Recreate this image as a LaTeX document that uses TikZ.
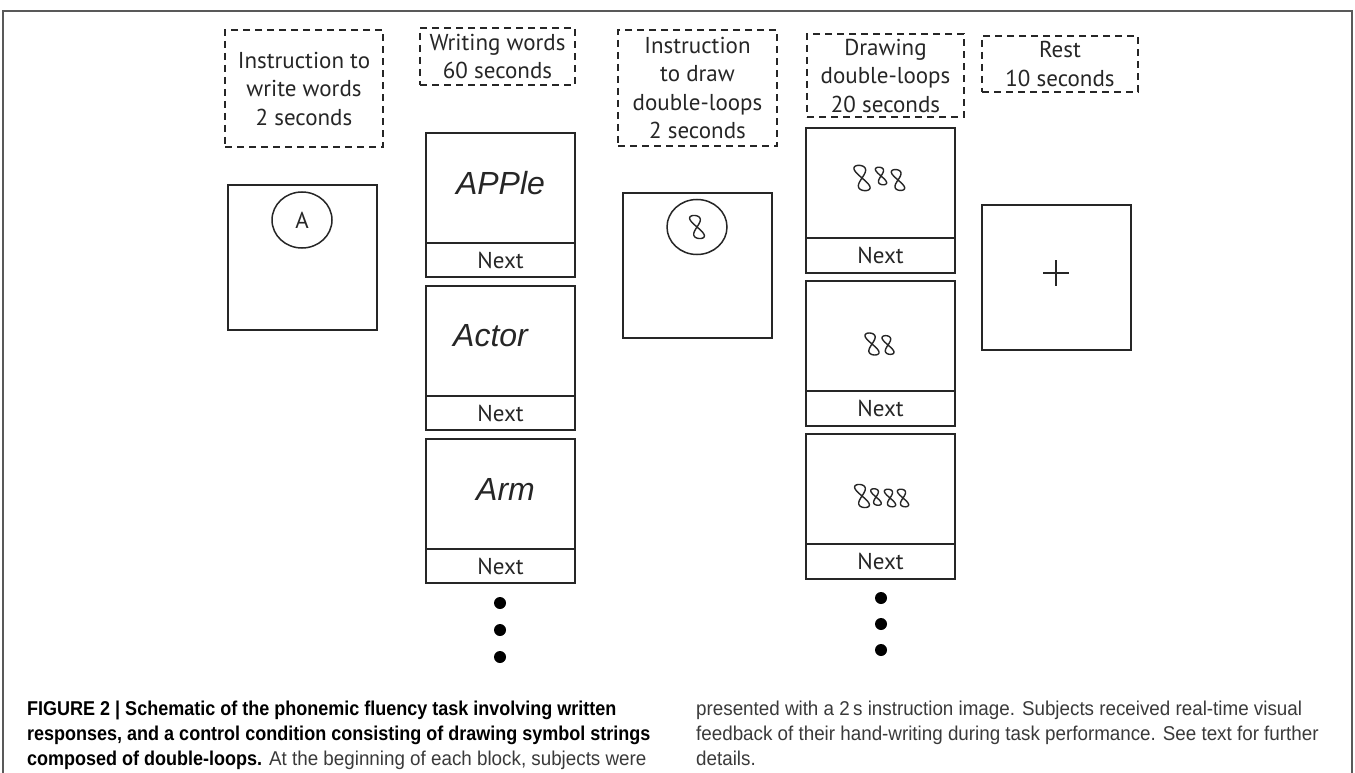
\documentclass[tikz,border=0pt]{standalone}
\usepackage{fontspec}
\setmainfont{PT Sans}
\newfontfamily\capfont[FakeStretch=0.94]{Liberation Sans}
\newfontfamily\capboldfont[FakeStretch=0.90]{Liberation Sans}
\newfontfamily\handfont{Liberation Sans}
\usetikzlibrary{shapes.geometric}
\definecolor{ink}{HTML}{262626}
\definecolor{capgray}{HTML}{3A3A3A}
\newcommand{\dloop}[3]{%
  \draw[ink, line width=1.4pt, line join=round]
    plot[domain=0:360, samples=49, smooth]
    ({#1 + #3*(5*sin(2*\x) - 0.25*11*sin(\x))}, {#2 - #3*11*sin(\x)});}
\tikzset{
  label box/.style={draw=ink, line width=1.5pt, dash pattern=on 7pt off 5pt,
    align=center, inner sep=0pt, font=\fontsize{23}{28.5}\selectfont, text=ink},
  card/.style={draw=ink, line width=2pt, minimum width=149pt, inner sep=0pt},
  next box/.style={card, font=\fontsize{23}{28}\selectfont, text=ink},
  hand/.style={font=\handfont\itshape\fontsize{32}{34}\selectfont, text=ink},
  dot/.style={circle, fill=black, minimum size=12pt, inner sep=0pt},
  cap line/.style={anchor=base west, inner sep=0pt, font=\capfont\fontsize{20}{25}\selectfont}
}
\begin{document}
\begin{tikzpicture}[x=1pt, y=-1pt]
\useasboundingbox (0,0) rectangle (1355,773);
\fill[white] (0,0) rectangle (1355,773);
% outer frame
\draw[line width=1.5pt, gray!70!black] (3,773) -- (3,11) -- (1352,11) -- (1352,773);

% dashed label boxes
\node[label box, minimum width=158pt, minimum height=117pt] (l1) at (304,88.5) {Instruction to\\write words\\2 seconds};
\node[label box, minimum width=155pt, minimum height=57pt] (l2) at (497.5,56.5) {Writing words\\60 seconds};
\node[label box, minimum width=159pt, minimum height=116pt] (l3) at (697.5,88) {Instruction\\to draw\\double-loops\\2 seconds};
\node[label box, minimum width=157pt, minimum height=83pt] (l4) at (885.5,75.5) {Drawing\\double-loops\\20 seconds};
\node[label box, minimum width=156pt, minimum height=56pt] (l5) at (1060,64) {Rest\\10 seconds};

% instruction screens
\node[card, minimum width=149pt, minimum height=145pt] (s1) at (302.5,257.5) {};
\node[draw=ink, line width=1.5pt, ellipse, minimum width=60pt, minimum height=56pt, inner sep=0pt,
  font=\fontsize{23}{28}\selectfont, text=ink] (c1) at (302,220) {A};
\node[card, minimum width=149pt, minimum height=145pt] (s3) at (697.5,265.5) {};
\node[draw=ink, line width=1.5pt, ellipse, minimum width=60pt, minimum height=55pt, inner sep=0pt] (c3) at (697,227) {};
\dloop{697}{227}{1.05}

% writing column
\foreach \i/\t/\w/\dx in {1/133/APPle/0, 2/286/Actor/-10, 3/439/Arm/5} {
  \node[card, minimum height=110pt] (w\i) at (500.5,\t+55) {};
  \node[next box, minimum height=34pt] (wn\i) at (500.5,\t+127) {Next};
  \node[hand] (wt\i) at (500.5+\dx,\t+50) {\w};
}
\node[dot] (wd1) at (500,603) {};
\node[dot] (wd2) at (500,630) {};
\node[dot] (wd3) at (500,657) {};

% drawing column
\foreach \i/\t in {1/128, 2/281, 3/434} {
  \node[card, minimum height=110pt] (d\i) at (880.5,\t+55) {};
  \node[next box, minimum height=35pt] (dn\i) at (880.5,\t+127.5) {Next};
}
\dloop{862}{178}{1.15}
\dloop{881}{176}{0.8}
\dloop{898}{180}{0.95}
\dloop{872}{344}{1.0}
\dloop{888}{345}{0.85}
\dloop{862}{496}{1.05}
\dloop{876}{497}{0.75}
\dloop{890}{498}{0.8}
\dloop{903}{498}{0.8}
\node[dot] (dd1) at (881,598) {};
\node[dot] (dd2) at (881,624) {};
\node[dot] (dd3) at (881,650) {};

% rest screen
\node[card, minimum width=149pt, minimum height=145pt] (r) at (1056,277.5) {};
\draw[ink, line width=1.5pt] (1043,273) -- (1069,273) (1056,260) -- (1056,286);

% caption
\node[cap line, text=black] (cap1) at (27,715) {\capboldfont\bfseries FIGURE 2 | Schematic of the phonemic fluency task involving written};
\node[cap line, text=black] (cap2) at (27,740) {\capboldfont\bfseries responses, and a control condition consisting of drawing symbol strings};
\node[cap line, text=capgray] (cap3) at (27,765) {{\capboldfont\bfseries\color{black} composed of double-loops.} At the beginning of each block, subjects were};
\node[cap line, text=capgray] (cap4) at (696,715) {presented with a 2\,s instruction image. Subjects received real-time visual};
\node[cap line, text=capgray] (cap5) at (696,740) {feedback of their hand-writing during task performance. See text for further};
\node[cap line, text=capgray] (cap6) at (696,765) {details.};
\end{tikzpicture}
\end{document}
